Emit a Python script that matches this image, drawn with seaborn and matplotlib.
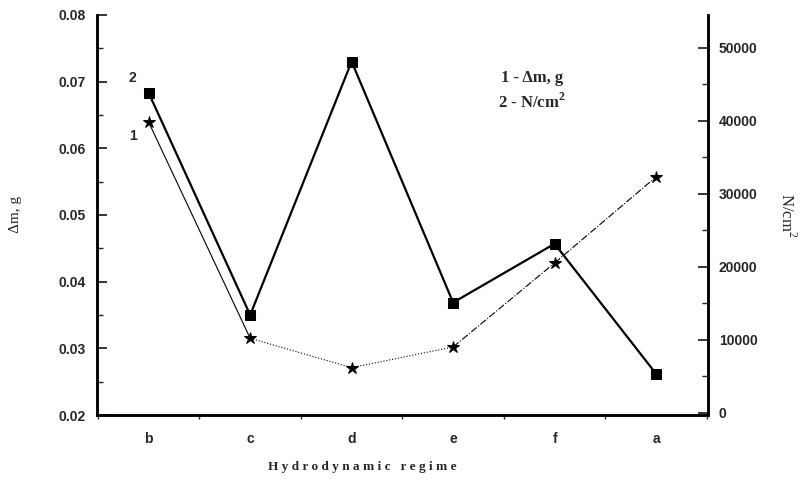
import numpy as np
import pandas as pd
import matplotlib
matplotlib.use('Agg')
import matplotlib.pyplot as plt
import seaborn as sns
from matplotlib.ticker import MultipleLocator

regimes = ['b', 'c', 'd', 'e', 'f', 'a']
dm = [0.0639, 0.0315, 0.0271, 0.0302, 0.0428, 0.0557]
stress = [43800, 13400, 48100, 15100, 23150, 5350]
dm_styles = ['-', ':', ':', '-.', '-.']

sns.set_theme(style='white')
plt.rcParams['font.family'] = ['Liberation Sans', 'DejaVu Sans']

fig = plt.figure(figsize=(8.08, 4.79), dpi=100)
ax = fig.add_axes([0.12, 0.1336, 0.756, 0.8354])
ax2 = ax.twinx()

df = pd.DataFrame({'regime': regimes, 'dm': dm, 'stress': stress})

# series 1: mass loss, thin line with mixed dash styles
sns.lineplot(data=df, x='regime', y='dm', ax=ax, sort=False, marker='*', markersize=9,
             color='black', linewidth=0, markeredgecolor='black')
for i, ls in enumerate(dm_styles):
    ax.plot(regimes[i:i + 2], dm[i:i + 2], ls=ls, color='black', lw=0.8)

# series 2: stress, thick solid line with squares
sns.lineplot(data=df, x='regime', y='stress', ax=ax2, sort=False, marker='s', markersize=7,
             color='black', linewidth=1.6, markeredgecolor='black')

ax.set_xlim(-0.51, 5.51)
ax.set_ylim(0.02, 0.08)
ax2.set_ylim(-300, 54500)

ax.yaxis.set_minor_locator(MultipleLocator(0.005))
ax2.yaxis.set_minor_locator(MultipleLocator(5000))
ax.set_yticks(np.arange(0.02, 0.081, 0.01))
ax.set_yticklabels([f'{v:.2f}' for v in np.arange(0.02, 0.081, 0.01)])
ax2.set_yticks(np.arange(0, 50001, 10000))
ax2.set_yticklabels([str(v) for v in range(0, 50001, 10000)])
ax.set_xticks(range(len(regimes)))
ax.set_xticklabels(regimes)
ax.xaxis.set_minor_locator(MultipleLocator(0.5))

for a in (ax, ax2):
    a.spines['top'].set_visible(False)
    for s in a.spines.values():
        s.set_linewidth(1.8)
        s.set_color('black')
    a.grid(False)

ax.tick_params(axis='y', which='major', direction='in', length=7, width=1.3, labelsize=10, pad=8)
ax.tick_params(axis='y', which='minor', direction='in', length=4, width=1.0, left=True)
ax.tick_params(axis='x', which='major', direction='out', length=5, width=1.3, labelsize=10, pad=7)
ax.tick_params(axis='x', which='minor', direction='out', length=3, width=1.0, bottom=True)
ax2.tick_params(axis='y', which='major', direction='in', length=7, width=1.3, labelsize=10, pad=8)
ax2.tick_params(axis='y', which='minor', direction='in', length=4, width=1.0, right=True)
for lab in ax.get_xticklabels() + ax.get_yticklabels() + ax2.get_yticklabels():
    lab.set_fontweight('bold')

ax.set_xlabel('H y d r o d y n a m i c   r e g i m e', family='Liberation Serif',
              fontsize=9.5, fontweight='bold', labelpad=12)
ax.xaxis.set_label_coords(0.434, -0.115)
ax.set_ylabel('\u0394m, g', family='Liberation Serif', fontsize=11, labelpad=26)
ax2.set_ylabel('N/cm$^{\\mathregular{2}}$', family='Liberation Serif', fontsize=12,
               rotation=270, labelpad=28)

ax.text(-0.12, 0.0705, '2', ha='right', va='center', fontsize=10, fontweight='bold')
ax.text(-0.12, 0.0618, '1', ha='right', va='center', fontsize=10, fontweight='bold')
ax.text(0.712, 0.8425, '1 - \u0394m, g', transform=ax.transAxes, ha='center', va='center',
        family='Liberation Serif', fontsize=12, fontweight='bold')
ax.text(0.712, 0.7825, '2 - N/cm$^{\\mathregular{2}}$', transform=ax.transAxes, ha='center',
        va='center', family='Liberation Serif', fontsize=12, fontweight='bold')

fig.savefig('out.png', dpi=100)
